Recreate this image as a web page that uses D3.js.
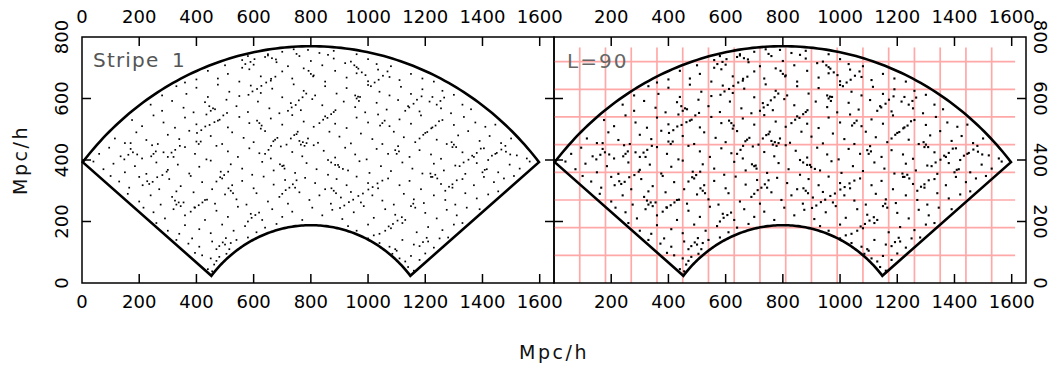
<!DOCTYPE html>
<html><head><meta charset="utf-8">
<script src="https://cdn.jsdelivr.net/npm/d3@7"></script>
<style>body{margin:0;background:#fff}svg{display:block}text{font-family:"DejaVu Sans",sans-serif}</style>
</head><body><svg id="c" width="1052" height="366"></svg>
<script>
// ---- data ----
const xTicks = [0,200,400,600,800,1000,1200,1400,1600];
const yTicks = [0,200,400,600,800];
const gridX = [90,180,270,360,450,540,630,720,810,900,990,1080,1170,1260,1350,1440,1530];
const gridY = [90,180,270,360,450,540,630,720];
const gridExtentX = [0,1612];
const gridExtentY = [0,766];
const panelLabels = ["Stripe 1","L=90"];
const axisTitle = "Mpc/h";
const fanCenter = [800,-262];
const fanOuterRadius = 1032;
const fanInnerRadius = 450;
const fanHalfAngleDeg = 50.6;
const galaxiesX = [];
const galaxiesY = [];
const galaxies = [
440,45,462,60,455,38,1140,52,1160,40,1130,70,470,72,
420,90,480,85,505,95,395,98,450,80,515,110,1085,95,1110,80,1150,88,1200,96,1180,75,1095,110,
330,140,372,128,410,118,455,135,500,125,540,140,580,148,385,145,470,110,520,130,
1000,145,1040,130,1075,118,1120,140,1160,125,1210,135,1250,145,1280,148,1100,105,1230,115,
260,195,300,170,340,160,360,188,410,175,450,162,490,190,530,170,570,185,610,165,640,180,680,192,
930,185,960,170,1000,190,1040,160,1080,178,1120,195,1170,165,1210,182,1260,172,1300,190,1330,195,1020,155,
250,230,290,210,320,240,360,220,395,245,430,205,470,235,510,215,545,248,590,225,630,205,665,240,700,215,735,232,770,205,805,245,840,220,875,238,910,208,950,230,985,250,1020,212,1060,240,1095,222,1130,205,1165,245,1200,228,1240,210,1275,238,1310,220,1345,245,1390,240,215,245,
160,290,200,265,240,285,275,255,315,280,355,262,390,295,430,270,465,258,500,288,540,272,575,255,610,292,650,265,690,280,720,258,760,295,795,270,830,285,870,258,905,278,940,296,975,262,1015,285,1050,268,1090,255,1125,290,1160,272,1195,260,1230,285,1270,270,1305,255,1340,292,1380,275,1420,288,1455,298,330,298,880,300,
130,330,165,310,200,345,235,322,270,305,305,338,345,315,380,348,420,328,455,305,490,340,525,318,560,332,600,308,635,346,670,320,710,335,745,310,780,342,815,325,850,305,890,338,925,318,960,346,1000,325,1035,308,1070,340,1110,318,1145,332,1185,305,1220,345,1255,322,1295,310,1330,338,1370,318,1405,345,1440,328,1475,340,1510,348,100,348,
40,395,75,370,110,388,150,360,185,380,225,355,260,392,300,368,335,385,375,356,410,378,450,398,485,362,520,386,560,372,595,352,630,394,670,366,705,382,745,358,785,390,820,370,860,352,895,384,930,366,970,396,1005,358,1045,380,1080,364,1120,392,1155,372,1190,356,1230,388,1265,366,1305,382,1340,355,1380,390,1415,370,1455,360,1495,385,1530,372,1565,395,
60,420,95,440,135,412,170,436,210,405,245,448,285,425,320,410,360,442,395,420,435,402,470,446,510,428,545,410,585,438,620,422,660,405,695,444,735,426,770,412,810,448,845,430,885,408,920,440,955,418,995,402,1030,436,1070,420,1105,445,1145,410,1180,432,1220,418,1255,404,1295,442,1330,425,1370,410,1405,438,1445,420,1480,446,1520,415,1555,405,170,455,
115,470,150,455,190,490,225,465,265,452,300,482,340,468,375,495,415,460,450,478,490,452,525,490,565,472,600,458,640,494,675,466,715,450,750,484,790,470,825,456,865,492,900,476,940,454,975,486,1015,468,1050,452,1090,492,1125,474,1165,458,1200,488,1240,466,1275,452,1315,480,1350,494,1390,462,1425,478,1465,455,1500,470,
175,530,210,510,250,545,285,522,325,505,360,538,400,516,435,548,475,528,510,506,550,540,585,520,625,502,660,535,700,515,735,546,775,525,810,508,850,542,885,518,925,504,960,538,1000,522,1035,548,1075,510,1110,532,1150,518,1185,545,1225,506,1260,530,1300,514,1335,540,1375,522,1410,508,1445,515,
240,580,280,560,315,592,355,570,390,555,430,588,465,565,505,596,540,575,580,556,615,590,655,568,690,552,730,585,765,562,805,598,840,578,880,556,915,590,955,572,990,555,1030,586,1065,564,1105,595,1140,575,1180,558,1215,590,1255,568,1290,552,1330,580,1360,565,
330,640,365,615,400,635,440,605,475,645,515,622,550,608,590,642,625,618,665,632,700,604,740,646,775,625,815,610,850,640,890,616,925,634,965,606,1000,644,1040,622,1075,610,1115,638,1150,615,1190,630,1225,605,1260,625,280,610,1300,612,
440,690,475,665,510,680,550,655,585,695,625,672,660,658,700,688,735,665,775,698,810,675,850,655,885,690,925,668,960,682,1000,656,1035,694,1075,670,1110,660,1150,680,1190,665,1230,655,400,662,360,652,
560,725,600,710,640,735,680,718,720,705,760,738,800,722,840,708,880,730,920,715,960,702,1000,728,1030,712,1080,705,500,708,580,738,860,742,
700,752,750,745,790,758,830,748,880,755,650,744,960,744,740,760,
765,450,772,458,778,446,760,462,785,455,1225,345,1235,352,1242,340,1218,356,
330,255,338,262,325,268,345,250,960,600,968,592,955,610,972,605,620,520,628,512,612,528,
1100,420,1108,428,1095,432,450,560,458,568,445,575,888,292,872,308,1300,450,1308,442,1292,458,
700,380,708,372,692,386,520,300,528,292,512,308,1050,520,1058,528,1042,512,250,420,258,428,242,412,
1400,360,1408,368,800,680,808,672,792,690,1150,250,1158,258,400,460,408,452,
212,318,228,331,247,329,263,344,281,351,296,362,148,402,162,417,178,425,193,418,
402,488,417,497,431,509,446,514,463,523,481,531,494,545,507,553,
582,612,596,623,612,631,627,641,644,652,661,664,676,671,
720,560,733,571,747,579,758,594,771,604,784,616,
902,244,917,252,933,263,948,271,966,283,982,291,1001,304,1016,312,1033,324,1050,333,
1180,470,1193,482,1207,491,1221,503,1236,512,1248,526,
1320,380,1334,392,1351,401,1364,414,1380,423,1394,437,
640,420,652,433,661,446,669,461,683,472,
830,520,843,531,858,537,871,549,886,562,
1010,640,1023,652,1037,661,1052,674,1068,688,
560,700,571,712,589,719,603,728,
470,330,483,344,497,351,511,362,
1130,560,1144,571,1159,583,1171,596,1187,607,
1420,400,1433,414,1450,423,1466,434,1482,427,1497,418,
700,290,712,302,725,310,737,321,750,334,
380,232,393,246,408,253,421,262,437,271,
1060,170,1072,184,1087,192,1103,203,1118,214,
580,200,593,212,606,221,619,229,
940,720,952,708,966,697,978,685,991,676,
300,410,313,424,326,433,342,446,
1270,300,1283,313,1295,321,1310,334,
860,400,871,392,885,384,899,377,912,371,
480,120,492,132,503,146,1180,120,1192,133,1205,147,
650,740,664,731,678,727,1240,580,1253,592,1266,603,730,470,742,481,754,492
];
for (let i = 0; i < galaxies.length; i += 2) { galaxiesX.push(galaxies[i]); galaxiesY.push(galaxies[i+1]); }

// ---- layout ----
const svg = d3.select("#c");
const plotTop = 37, plotBottom = 283;
const panels = [{x0:82, x1:554}, {x0:554, x1:1026}];
const y = d3.scaleLinear().domain([0,800]).range([plotBottom, plotTop]);

function fanPoints() {
  const a = fanHalfAngleDeg * Math.PI / 180, n = 120, pts = [];
  for (let i = 0; i <= n; i++) { const t = -a + 2*a*i/n; pts.push([fanCenter[0] + fanOuterRadius*Math.sin(t), fanCenter[1] + fanOuterRadius*Math.cos(t)]); }
  for (let i = 0; i <= n; i++) { const t = a - 2*a*i/n; pts.push([fanCenter[0] + fanInnerRadius*Math.sin(t), fanCenter[1] + fanInnerRadius*Math.cos(t)]); }
  return pts;
}
const fan = fanPoints();

panels.forEach((p, pi) => {
  const x = d3.scaleLinear().domain([0,1650]).range([p.x0, p.x1]);
  const g = svg.append("g");
  if (pi === 1) {
    const gg = g.append("g").attr("stroke", "#ffa8a8").attr("stroke-width", 1.7);
    gg.selectAll("line.v").data(gridX).join("line").attr("class","v")
      .attr("x1", d => x(d)).attr("x2", d => x(d))
      .attr("y1", y(gridExtentY[0])).attr("y2", y(gridExtentY[1]));
    gg.selectAll("line.h").data(gridY).join("line").attr("class","h")
      .attr("y1", d => y(d)).attr("y2", d => y(d))
      .attr("x1", x(gridExtentX[0])).attr("x2", x(gridExtentX[1]));
  }
  const s = pi === 0 ? 1.7 : 2.1;
  g.append("g").attr("fill", "#000").selectAll("rect").data(galaxiesX.map((v,i)=>[v,galaxiesY[i]])).join("rect")
    .attr("x", d => x(d[0]) - s/2).attr("y", d => y(d[1]) - s/2).attr("width", s).attr("height", s);
  g.append("path").datum(fan)
    .attr("d", d3.line().x(d => x(d[0])).y(d => y(d[1])).curve(d3.curveLinearClosed))
    .attr("fill", "none").attr("stroke", "#000").attr("stroke-width", 2.6).attr("stroke-linejoin","miter");
  g.append("rect").attr("x", p.x0).attr("y", plotTop).attr("width", p.x1 - p.x0).attr("height", plotBottom - plotTop)
    .attr("fill","none").attr("stroke","#000").attr("stroke-width",1.5);
  const tk = g.append("g").attr("stroke","#000").attr("stroke-width",1.5);
  const xt = xTicks.filter(v => v > 0);
  tk.selectAll("line.b").data(xt).join("line").attr("class","b")
    .attr("x1", d => x(d)).attr("x2", d => x(d)).attr("y1", plotBottom).attr("y2", plotBottom - 9);
  tk.selectAll("line.t").data(xt).join("line").attr("class","t")
    .attr("x1", d => x(d)).attr("x2", d => x(d)).attr("y1", plotTop).attr("y2", plotTop + 9);
  const yt = yTicks.filter(v => v > 0 && v < 800);
  tk.selectAll("line.l").data(yt).join("line").attr("class","l")
    .attr("x1", p.x0).attr("x2", p.x0 + 9).attr("y1", d => y(d)).attr("y2", d => y(d));
  tk.selectAll("line.r").data(yt).join("line").attr("class","r")
    .attr("x1", p.x1).attr("x2", p.x1 - 9).attr("y1", d => y(d)).attr("y2", d => y(d));
  const xl = pi === 0 ? xTicks : xTicks.filter(v => v > 0);
  g.selectAll("text.xb").data(xl).join("text").attr("class","xb")
    .attr("x", d => x(d)).attr("y", 308).attr("text-anchor","middle").attr("font-size",18).attr("fill","#000").text(d => d);
  g.selectAll("text.xt").data(xl).join("text").attr("class","xt")
    .attr("x", d => x(d)).attr("y", 23).attr("text-anchor","middle").attr("font-size",18).attr("fill","#000").text(d => d);
  if (pi === 0) {
    g.selectAll("text.yl").data(yTicks).join("text").attr("class","yl")
      .attr("transform", d => `translate(68,${y(d)}) rotate(-90)`).attr("text-anchor","middle")
      .attr("font-size",18).attr("fill","#000").text(d => d);
  } else {
    g.selectAll("text.yr").data(yTicks).join("text").attr("class","yr")
      .attr("transform", d => `translate(1034,${y(d)}) rotate(90)`).attr("text-anchor","middle")
      .attr("font-size",18).attr("fill","#000").text(d => d);
  }
  g.append("text").attr("x", pi === 0 ? 93 : 567).attr("y", pi === 0 ? 67 : 68)
    .attr("font-size", 20).attr("fill", pi === 0 ? "#555" : "#666")
    .attr("letter-spacing", pi === 0 ? 1.2 : 2).attr("word-spacing", 5)
    .text(panelLabels[pi]);
});

svg.append("text").attr("x", 554).attr("y", 359).attr("text-anchor","middle")
  .attr("font-size",19).attr("letter-spacing",2.5).attr("fill","#111").text(axisTitle);
svg.append("text").attr("transform", `translate(27,${(plotTop+plotBottom)/2}) rotate(-90)`).attr("text-anchor","middle")
  .attr("font-size",19).attr("letter-spacing",2.5).attr("fill","#111").text(axisTitle);
</script></body></html>
